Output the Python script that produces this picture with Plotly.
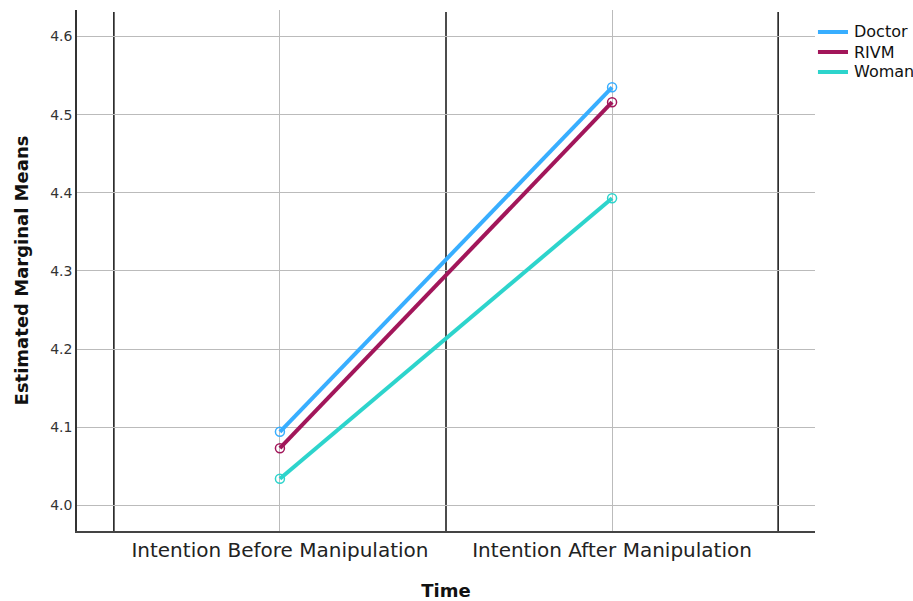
import plotly.graph_objects as go

categories = ["Intention Before Manipulation", "Intention After Manipulation"]
series_names = ["Doctor", "RIVM", "Woman"]
doctor = [4.094, 4.535]
rivm = [4.073, 4.516]
woman = [4.034, 4.393]
y_ticks = [4.0, 4.1, 4.2, 4.3, 4.4, 4.5, 4.6]

colors = ["#38AEFF", "#A2165A", "#2DD4CC"]
values = [doctor, rivm, woman]
xpos = list(range(len(categories)))

fig = go.Figure()
for name, vals, c in zip(series_names, values, colors):
    fig.add_trace(go.Scatter(
        x=xpos, y=vals, name=name, mode="lines+markers", showlegend=False,
        line=dict(color=c, width=4),
        marker=dict(symbol="circle-open", size=9, color=c, line=dict(width=1.5, color=c)),
    ))

# black category-boundary lines
for b in [-0.5, 0.5, 1.5]:
    fig.add_shape(type="line", xref="x", yref="paper", x0=b, x1=b, y0=0, y1=0.996,
                  line=dict(color="#111111", width=1.5), layer="below")

# manual legend (line samples + names)
H, T, B = 601, 10, 70
plot_h = H - T - B
for i, (name, c) in enumerate(zip(series_names, colors)):
    yc = 1 - (32 + 20 * i - T) / plot_h
    fig.add_shape(type="line", xref="paper", yref="paper", x0=1.004, x1=1.0447,
                  y0=yc, y1=yc, line=dict(color=c, width=4))
    fig.add_annotation(xref="paper", yref="paper", x=1.050, y=yc, text=name,
                       showarrow=False, xanchor="left", yanchor="middle",
                       font=dict(size=16, color="#111111"))

fig.update_layout(
    width=913, height=H,
    margin=dict(l=77, r=98, t=T, b=B),
    paper_bgcolor="white", plot_bgcolor="white",
    font=dict(family="DejaVu Sans, sans-serif", color="#222222"),
    showlegend=False,
    xaxis=dict(range=[-0.611, 1.611], tickvals=xpos, ticktext=categories,
               tickfont=dict(size=20, color="#222222"), automargin=False,
               showgrid=True, gridcolor="#BBBBBB", gridwidth=1.2,
               showline=True, linecolor="#444444", linewidth=2, ticks="",
               zeroline=False,
               title=dict(text="<b>Time</b>", font=dict(size=18, color="#111111"), standoff=27)),
    yaxis=dict(range=[3.967, 4.634], tickvals=y_ticks,
               ticktext=[f"{v:.1f}" for v in y_ticks],
               tickfont=dict(size=14, color="#333333"), automargin=False,
               showgrid=True, gridcolor="#BBBBBB", gridwidth=1.2,
               showline=True, linecolor="#333333", linewidth=1.5, ticks="",
               zeroline=False,
               title=dict(text="<b>Estimated Marginal Means</b>", font=dict(size=18, color="#111111"), standoff=17)),
)

fig.write_html("out.html", config={"displayModeBar": False},
               post_script="document.body.style.margin='0';document.body.style.overflow='hidden';")
